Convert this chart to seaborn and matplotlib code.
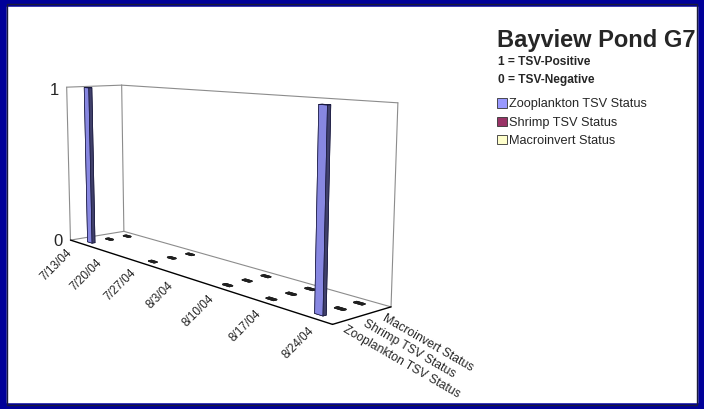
import numpy as np
import matplotlib
matplotlib.use("Agg")
import matplotlib.pyplot as plt
from matplotlib.patches import Patch, Rectangle
from matplotlib.transforms import offset_copy
from mpl_toolkits.mplot3d import proj3d
import seaborn as sns

# Weekly sampling dates and TSV status per sample type (1 = positive, 0 = negative, NaN = not sampled)
dates = ["7/13/04", "7/20/04", "7/27/04", "8/3/04", "8/10/04", "8/17/04", "8/24/04"]
series = ["Zooplankton TSV Status", "Shrimp TSV Status", "Macroinvert Status"]
zooplankton = [1, np.nan, 0, np.nan, 0, 0, 1]
shrimp = [0, np.nan, 0, np.nan, 0, 0, 0]
macroinvert = [0, np.nan, 0, np.nan, 0, 0, 0]
z_ticks = [0, 1]

title = "Bayview Pond G7"
key_lines = ["1 = TSV-Positive", "0 = TSV-Negative"]

sns.set_theme(style="white")
plt.rcParams["font.family"] = ["Liberation Sans", "DejaVu Sans"]

colors = sns.color_palette(["#9999FF", "#993366", "#FFFFCC"])
values = [zooplankton, shrimp, macroinvert]

fig = plt.figure(figsize=(7.04, 4.09), dpi=100)
fig.patch.set_facecolor("white")

ax = fig.add_axes([-0.033, 0.040, 0.64, 1.0], projection="3d")
ax.set_proj_type("persp", focal_length=0.4)
ax.view_init(elev=9, azim=-40)

xlo, xhi = -0.42, len(dates) - 0.58
ylo, yhi = -0.5, len(series) - 0.5
zlo, zhi = z_ticks[0], z_ticks[-1]
ax.set_xlim(xlo, xhi)
ax.set_ylim(ylo, yhi)
ax.set_zlim(zlo, zhi)
ax.set_box_aspect((0.93, 0.172, 0.405), zoom=1.067)
ax.set_axis_off()

# Walls and floor outline
wall = dict(color="#8c8c8c", lw=0.8)
ax.plot([xlo, xlo], [ylo, ylo], [zlo, zhi], **wall)
ax.plot([xlo, xlo], [ylo, yhi], [zhi, zhi], **wall)
ax.plot([xlo, xlo], [yhi, yhi], [zlo, zhi], **wall)
ax.plot([xlo, xlo], [ylo, yhi], [zlo, zlo], **wall)
ax.plot([xlo, xhi], [yhi, yhi], [zhi, zhi], **wall)
ax.plot([xhi, xhi], [yhi, yhi], [zlo, zhi], **wall)
ax.plot([xlo, xhi], [yhi, yhi], [zlo, zlo], **wall)
ax.plot([xlo, xhi], [ylo, ylo], [zlo, zlo], color="black", lw=1.0)
ax.plot([xhi, xhi], [ylo, yhi], [zlo, zlo], color="black", lw=1.0)

# Columns
dx, dy = 0.16, 0.16
for j, (vals, col) in enumerate(zip(values, colors)):
    for i, v in enumerate(vals):
        if np.isnan(v):
            continue
        if v > 0:
            ax.bar3d(i - dx / 2, j - dy / 2, 0, dx, dy, v, color=col,
                     edgecolor="#1a1a40", linewidth=0.5, shade=True)
        else:
            ax.bar3d(i - dx / 2, j - dy / 2, 0, dx, dy, v, color="#202020",
                     edgecolor="#202020", linewidth=1.0, shade=False)

# Tick labels placed at projected axis positions
fig.canvas.draw()
M = ax.get_proj()


def label(x, y, z, s, shift=0.0, **kw):
    px, py, _ = proj3d.proj_transform(x, y, z, M)
    tr = offset_copy(ax.transData, fig=fig, y=shift, units="points")
    ax.text2D(px, py, s, transform=tr, **kw)


for i, d in enumerate(dates):
    label(xlo + 1.08 * i, ylo - 0.25, zlo, d, shift=-4, fontsize=8.5, rotation=45,
          ha="right", va="top", rotation_mode="anchor")
for j, s in enumerate(series):
    label(xhi + 0.12, j - 0.1, zlo, s, fontsize=8.8, rotation=-30,
          ha="left", va="top", rotation_mode="anchor")
for z in z_ticks:
    label(xlo - 0.3, ylo, z, str(z), shift=-3, fontsize=12, ha="right", va="center")

# Title and key
fig.text(0.706, 0.885, title, fontsize=17, fontweight="bold", ha="left", va="baseline")
fig.text(0.708, 0.840, key_lines[0], fontsize=8.6, fontweight="bold", ha="left", va="baseline")
fig.text(0.708, 0.798, key_lines[1], fontsize=8.6, fontweight="bold", ha="left", va="baseline")
handles = [Patch(facecolor=c, edgecolor="#333333", linewidth=0.6) for c in colors]
fig.legend(handles, series, loc="upper left", bbox_to_anchor=(0.699, 0.772),
           frameon=False, fontsize=9.2, handlelength=0.75, handleheight=0.75,
           handletextpad=0.15, labelspacing=0.48, borderaxespad=0)

# Frame
fig.patches.append(Rectangle((0, 0), 1, 1, transform=fig.transFigure, fill=False,
                             edgecolor="#000099", linewidth=9))
fig.patches.append(Rectangle((0.0105, 0.0105), 0.979, 0.979, transform=fig.transFigure,
                             fill=False, edgecolor="#1a1a3a", linewidth=1))

fig.savefig("out.png", dpi=100)
